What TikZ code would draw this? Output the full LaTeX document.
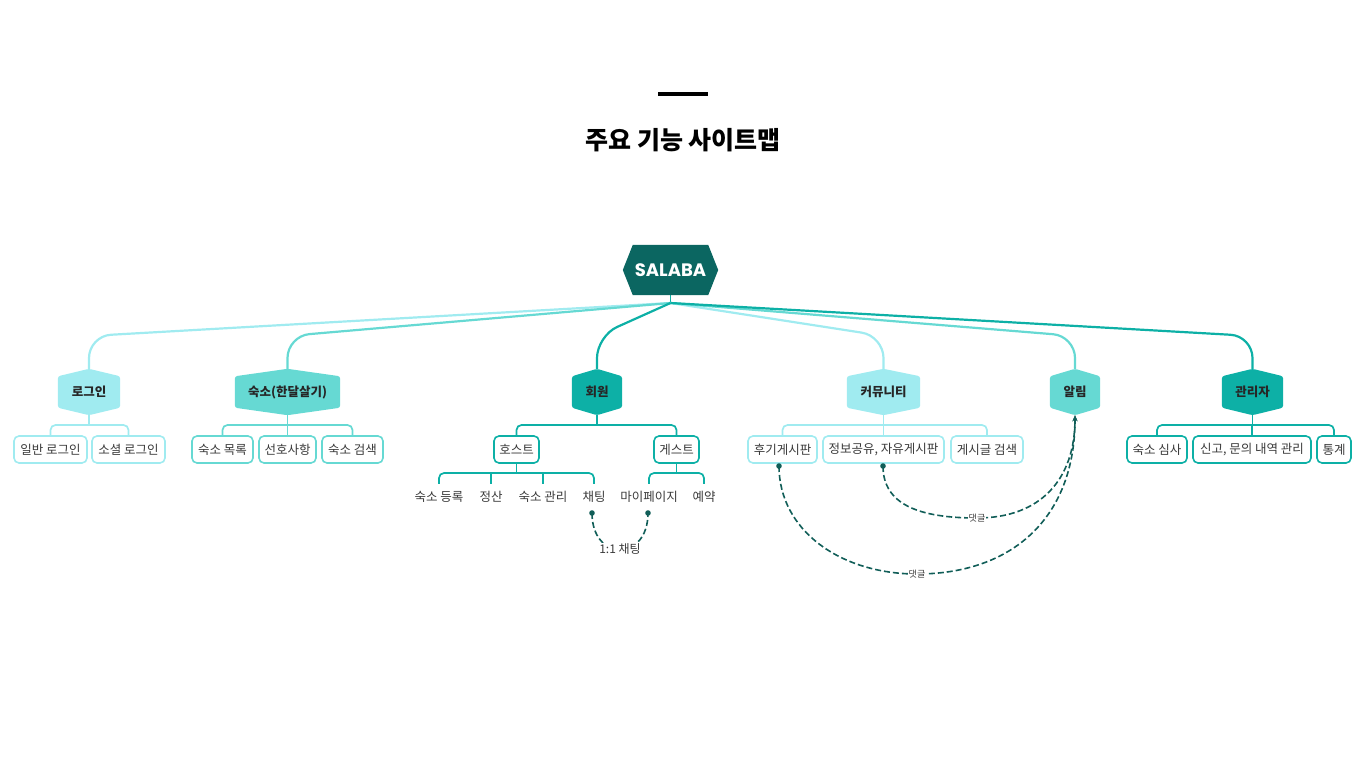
\documentclass[tikz,border=0pt]{standalone}
\usepackage{fontspec}
\newfontfamily\kr{Noto Sans CJK KR}
\newfontfamily\pop{Poppins}
\usetikzlibrary{arrows.meta}
\definecolor{cLight}{HTML}{A0EBF0}
\definecolor{cMid}{HTML}{66D9D3}
\definecolor{cTeal}{HTML}{0DB0A6}
\definecolor{cDark}{HTML}{0B6661}
\definecolor{cDash}{HTML}{115E58}
\definecolor{txt}{HTML}{3A3A3A}
\pgfdeclarelayer{bg}\pgfsetlayers{bg,main}
\newcommand{\hexv}[6]{%
  \node[lvbox, minimum width=#4pt] (#1) at (#2,#3) {};
  \fill[#5, rounded corners=2.5pt] (#1.north) -- ([yshift=-7.5pt]#1.north east) -- ([yshift=7.5pt]#1.south east) -- (#1.south) -- ([yshift=7.5pt]#1.south west) -- ([yshift=-7.5pt]#1.north west) -- cycle;
  \node[lvtext] at (#1.center) {#6};}
\newcommand{\brk}[5]{%
  \draw[brline,#5,rounded corners=5pt] (#2.north) -- (#2.north |- #4) -- (#3.north |- #4) -- (#3.north);
  \draw[brline,#5] (#1.south) -- (#1.south |- #4);}
\begin{document}
\begin{tikzpicture}[x=1pt,y=-1pt,
  lvbox/.style={inner sep=0pt, minimum height=46pt},
  lvtext/.style={inner sep=0pt, font=\kr\bfseries\fontsize{12.5}{12.5}\selectfont, text=black!85},
  box/.style={draw, line width=1.6pt, rounded corners=5pt, fill=white, minimum height=27pt, inner sep=0pt, font=\kr\fontsize{12.5}{12.5}\selectfont, text=txt},
  leaf/.style={inner sep=0pt, minimum height=25pt, font=\kr\fontsize{12.5}{12.5}\selectfont, text=txt},
  conn/.style={line width=2.2pt, rounded corners=22pt},
  brline/.style={line width=1.7pt},
  dsh/.style={cDash, line width=1.6pt, dash pattern=on 6pt off 3pt},
  lab/.style={fill=white, inner sep=1pt, text=txt}]
\useasboundingbox (0,0) rectangle (1366,768);
% title
\coordinate (barL) at (658,94);
\coordinate (barR) at (708,94);
\draw[line width=4.5pt] (barL) -- (barR);
\node[font=\kr\bfseries\fontsize{25}{25}\selectfont] (title) at (683,140) {주요 기능 사이트맵};
% root
\node[inner sep=0pt, minimum width=95pt, minimum height=50pt] (root) at (670.5,270) {};
\fill[cDark] ([xshift=10pt]root.north west) -- ([xshift=-10pt]root.north east) -- (root.east) -- ([xshift=-10pt]root.south east) -- ([xshift=10pt]root.south west) -- (root.west) -- cycle;
\node[font=\pop\bfseries\fontsize{18}{18}\selectfont, text=white] at (root.center) {SALABA};
\coordinate (hub) at (670.5,303);
\coordinate (turnY) at (0,336);
\coordinate (barA) at (0,425);
\coordinate (barB) at (0,473);
% level 1
\hexv{login}{89}{392}{62}{cLight}{로그인}
\hexv{stay}{287.5}{392}{105}{cMid}{숙소(한달살기)}
\hexv{member}{597}{392}{50}{cTeal}{회원}
\hexv{comm}{883.5}{392}{73}{cLight}{커뮤니티}
\hexv{alarm}{1075}{392}{50}{cMid}{알림}
\hexv{admin}{1252.5}{392}{61}{cTeal}{관리자}
% level 2
\node[box, draw=cLight, minimum width=73pt] (b11) at (50.5,449.5) {일반 로그인};
\node[box, draw=cLight, minimum width=73pt] (b12) at (128.5,449.5) {소셜 로그인};
\node[box, draw=cMid, minimum width=61pt] (b21) at (222.5,449.5) {숙소 목록};
\node[box, draw=cMid, minimum width=57pt] (b22) at (287.5,449.5) {선호사항};
\node[box, draw=cMid, minimum width=61pt] (b23) at (352.5,449.5) {숙소 검색};
\node[box, draw=cTeal, minimum width=45pt] (b31) at (516.5,449.5) {호스트};
\node[box, draw=cTeal, minimum width=45pt] (b32) at (676.5,449.5) {게스트};
\node[box, draw=cLight, minimum width=69pt] (b41) at (782.5,449.5) {후기게시판};
\node[box, draw=cLight, minimum width=121pt] (b42) at (883.5,449.5) {정보공유, 자유게시판};
\node[box, draw=cLight, minimum width=72pt] (b43) at (987,449.5) {게시글 검색};
\node[box, draw=cTeal, minimum width=60pt] (b61) at (1157,449.5) {숙소 심사};
\node[box, draw=cTeal, minimum width=118pt] (b62) at (1252,449.5) {신고, 문의 내역 관리};
\node[box, draw=cTeal, minimum width=34pt] (b63) at (1334,449.5) {통계};
% level 3
\node[leaf] (h1) at (439,496.5) {숙소 등록};
\node[leaf] (h2) at (491,496.5) {정산};
\node[leaf] (h3) at (543,496.5) {숙소 관리};
\node[leaf] (h4) at (594,496.5) {채팅};
\node[leaf] (g1) at (649,496.5) {마이페이지};
\node[leaf] (g2) at (704,496.5) {예약};
% connectors
\begin{pgfonlayer}{bg}
\draw[brline,cTeal] (root.south) -- (hub);
\draw[conn,cLight] (hub) -- (login |- turnY) -- (login.north);
\draw[conn,cLight] (hub) -- (comm |- turnY) -- (comm.north);
\draw[conn,cMid] (hub) -- (stay |- turnY) -- (stay.north);
\draw[conn,cMid] (hub) -- (alarm |- turnY) -- (alarm.north);
\draw[conn,cTeal] (hub) -- (member |- turnY) -- (member.north);
\draw[conn,cTeal] (hub) -- (admin |- turnY) -- (admin.north);
\brk{login}{b11}{b12}{barA}{cLight}
\brk{stay}{b21}{b23}{barA}{cMid}
\draw[brline,cMid] (b22.north |- barA) -- (b22.north);
\brk{member}{b31}{b32}{barA}{cTeal}
\brk{comm}{b41}{b43}{barA}{cLight}
\draw[brline,cLight] (b42.north |- barA) -- (b42.north);
\brk{admin}{b61}{b63}{barA}{cTeal}
\draw[brline,cTeal] (b62.north |- barA) -- (b62.north);
\brk{b31}{h1}{h4}{barB}{cTeal}
\draw[brline,cTeal] (h2.north |- barB) -- (h2.north);
\draw[brline,cTeal] (h3.north |- barB) -- (h3.north);
\brk{b32}{g1}{g2}{barB}{cTeal}
\end{pgfonlayer}
% 1:1 chat
\coordinate (dotA) at (592,513);
\coordinate (dotB) at (648,513);
\draw[dsh] (dotA) .. controls (592,562) and (648,562) .. (dotB);
\fill[cDash] (dotA) circle (2.8pt);
\fill[cDash] (dotB) circle (2.8pt);
\node[lab, font=\kr\fontsize{12}{12}\selectfont] (chat) at (620,549) {1:1 채팅};
% comments
\coordinate (cm1) at (779,466);
\coordinate (cm2) at (883,466);
\draw[dsh,-{Stealth[length=6pt,width=5pt]}] (cm1) .. controls (779,530) and (840,574) .. (917,574) .. controls (1010,574) and (1075,520) .. (alarm.south);
\draw[dsh,-{Stealth[length=6pt,width=5pt]}] (cm2) .. controls (883,505) and (920,518) .. (977,518) .. controls (1040,518) and (1075,480) .. (alarm.south);
\fill[cDash] (cm1) circle (2.8pt);
\fill[cDash] (cm2) circle (2.8pt);
\node[lab, font=\kr\fontsize{9}{9}\selectfont] (r1) at (917,574) {댓글};
\node[lab, font=\kr\fontsize{9}{9}\selectfont] (r2) at (977,518) {댓글};
\end{tikzpicture}
\end{document}
